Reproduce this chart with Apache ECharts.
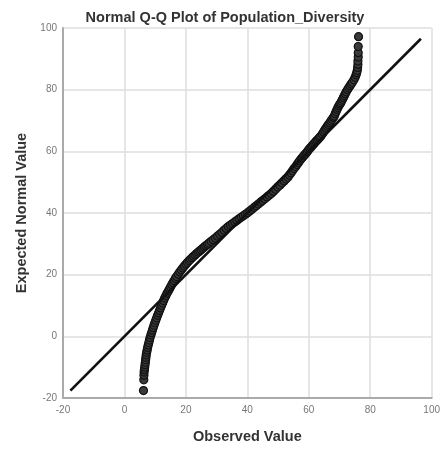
<!DOCTYPE html>
<html>
<head>
<meta charset="utf-8">
<script src="https://cdn.jsdelivr.net/npm/echarts@6/dist/echarts.min.js"></script>
<style>
html,body{margin:0;padding:0;background:#fff;}
#chart{width:443px;height:453px;}
</style>
</head>
<body>
<div id="chart"></div>
<script>
var chartTitle = 'Normal Q-Q Plot of Population_Diversity';
var xAxisName = 'Observed Value';
var yAxisName = 'Expected Normal Value';

var observedValue = [
  6.2, 6.3, 6.35, 6.4,
  6.5, 6.6, 6.7, 6.8, 6.9, 7.0, 7.1, 7.25, 7.4, 7.55, 7.75, 7.95, 8.15, 8.35,
  8.6, 8.85, 9.1, 9.35, 9.62, 9.9, 10.2, 10.5, 10.8, 11.1, 11.42, 11.75, 12.08, 12.42, 12.76, 13.1, 13.48, 13.86,
  14.3, 14.65, 15.0, 15.4, 15.8, 16.2, 16.6, 17.0, 17.5, 18.0, 18.5, 19.0, 19.5, 20.0, 20.5,
  21.0, 21.5, 22.0, 22.5, 23.0, 23.5, 24.0, 24.5, 25.0, 25.5, 26.0, 26.5, 27.0, 27.5,
  28.2, 28.9, 29.6, 30.3, 31.0, 31.7, 32.4, 33.1, 33.8, 34.5, 35.2, 35.9, 36.6, 37.3, 38.0, 38.7, 39.4, 40.1,
  40.8, 41.5, 42.2, 42.9, 43.6, 44.3, 45.0, 45.7, 46.4, 47.1, 47.8,
  48.5, 49.2, 49.9, 50.6, 51.3, 52.0, 52.6, 53.2,
  53.7, 54.2, 54.7, 55.2, 55.7, 56.2, 56.6, 57.0, 57.5,
  57.9, 58.3, 58.7, 59.1, 59.5, 59.9, 60.3, 60.7, 61.1, 61.5, 61.9, 62.3, 62.7, 63.1, 63.5, 63.9,
  64.4, 64.8, 65.2, 65.6, 66.0, 66.4, 66.8, 67.2, 67.6, 68.0, 68.3,
  68.6, 68.9, 69.2, 69.5, 69.8, 70.1, 70.4, 70.7, 71.0, 71.3, 71.6, 71.9, 72.2, 72.6, 73.0, 73.4, 73.8, 74.2, 74.7,
  75.1, 75.4, 75.6, 75.8, 75.9, 76.0, 76.0, 76.1, 76.1, 76.1, 76.2
];
var expectedValue = [
  -17.6, -14.1, -12.6, -11.6,
  -10.8, -10, -9.2, -8.4, -7.6, -6.8, -6, -5.2, -4.4, -3.6, -2.8, -2, -1.2, -0.4,
  0.4, 1.2, 2, 2.8, 3.6, 4.4, 5.2, 6, 6.8, 7.6, 8.4, 9.2, 10, 10.8, 11.6, 12.4, 13.2, 14,
  14.7, 15.35, 16.0, 16.75, 17.45, 18.1, 18.8, 19.4, 20.15, 20.9, 21.55, 22.2, 22.8, 23.4, 23.95,
  24.5, 25.0, 25.5, 25.95, 26.4, 26.85, 27.3, 27.7, 28.1, 28.55, 29.0, 29.4, 29.8, 30.2,
  30.8, 31.35, 31.9, 32.5, 33.1, 33.7, 34.4, 35.0, 35.6, 36.1, 36.6, 37.1, 37.6, 38.1, 38.6, 39.1, 39.6, 40.1,
  40.65, 41.2, 41.8, 42.35, 42.9, 43.5, 44.05, 44.6, 45.2, 45.75, 46.3,
  47.0, 47.7, 48.4, 49.0, 49.7, 50.4, 51.0, 51.6,
  52.3, 53.0, 53.7, 54.4, 55.0, 55.7, 56.3, 56.9, 57.5,
  58.0, 58.5, 58.9, 59.4, 59.9, 60.4, 60.9, 61.3, 61.8, 62.3, 62.7, 63.2, 63.6, 64.0, 64.5, 64.9,
  65.6, 66.3, 66.9, 67.5, 68.1, 68.7, 69.2, 69.8, 70.4, 71.0, 71.4,
  72.2, 72.9, 73.6, 74.2, 74.8, 75.3, 75.7, 76.3, 76.9, 77.5, 78.1, 78.7, 79.3, 80.0, 80.6, 81.2, 81.8, 82.4, 83.2,
  84.0, 84.8, 85.5, 86.3, 87.2, 88.2, 89.3, 90.6, 92.0, 94.0, 97.2
];
var refLineX = [-17.6, 96.5];
var refLineY = [-17.6, 96.5];

var points = observedValue.map(function (v, i) { return [v, expectedValue[i]]; });
var refLine = refLineX.map(function (v, i) { return [v, refLineY[i]]; });

var FONT = '"Liberation Sans", Arial, sans-serif';
var chart = echarts.init(document.getElementById('chart'), null, {renderer: 'canvas'});
chart.setOption({
  animation: false,
  backgroundColor: '#fff',
  title: {
    text: chartTitle,
    left: 220, top: 5, textAlign: 'center',
    textStyle: {fontFamily: FONT, fontSize: 14.5, fontWeight: 'bold', color: '#333'}
  },
  grid: {left: 63, right: 10, top: 28, bottom: 55, containLabel: false},
  xAxis: {
    type: 'value', min: -20, max: 100, interval: 20,
    name: xAxisName, nameLocation: 'middle', nameGap: 31,
    nameTextStyle: {fontFamily: FONT, fontSize: 14.5, fontWeight: 'bold', color: '#333'},
    axisLine: {show: true, onZero: false, lineStyle: {color: '#aaaaaa', width: 2}},
    axisTick: {show: false},
    axisLabel: {fontFamily: FONT, fontSize: 10, color: '#777', margin: 7},
    splitLine: {show: true, lineStyle: {color: '#dedede', width: 1.5}}
  },
  yAxis: {
    type: 'value', min: -20, max: 100, interval: 20,
    name: yAxisName, nameLocation: 'middle', nameGap: 33,
    nameTextStyle: {fontFamily: FONT, fontSize: 14.5, fontWeight: 'bold', color: '#333'},
    axisLine: {show: true, onZero: false, lineStyle: {color: '#aaaaaa', width: 2}},
    axisTick: {show: false},
    axisLabel: {fontFamily: FONT, fontSize: 10, color: '#777', margin: 6},
    splitLine: {show: true, lineStyle: {color: '#dedede', width: 1.5}}
  },
  series: [
    {
      type: 'scatter',
      data: points,
      symbol: 'circle',
      symbolSize: 8,
      itemStyle: {color: '#3a3a3a', borderColor: '#111', borderWidth: 1.2, opacity: 1},
      z: 2
    },
    {
      type: 'line',
      data: refLine,
      symbol: 'none',
      lineStyle: {color: '#111', width: 2.6},
      z: 3
    }
  ]
});
</script>
</body>
</html>
